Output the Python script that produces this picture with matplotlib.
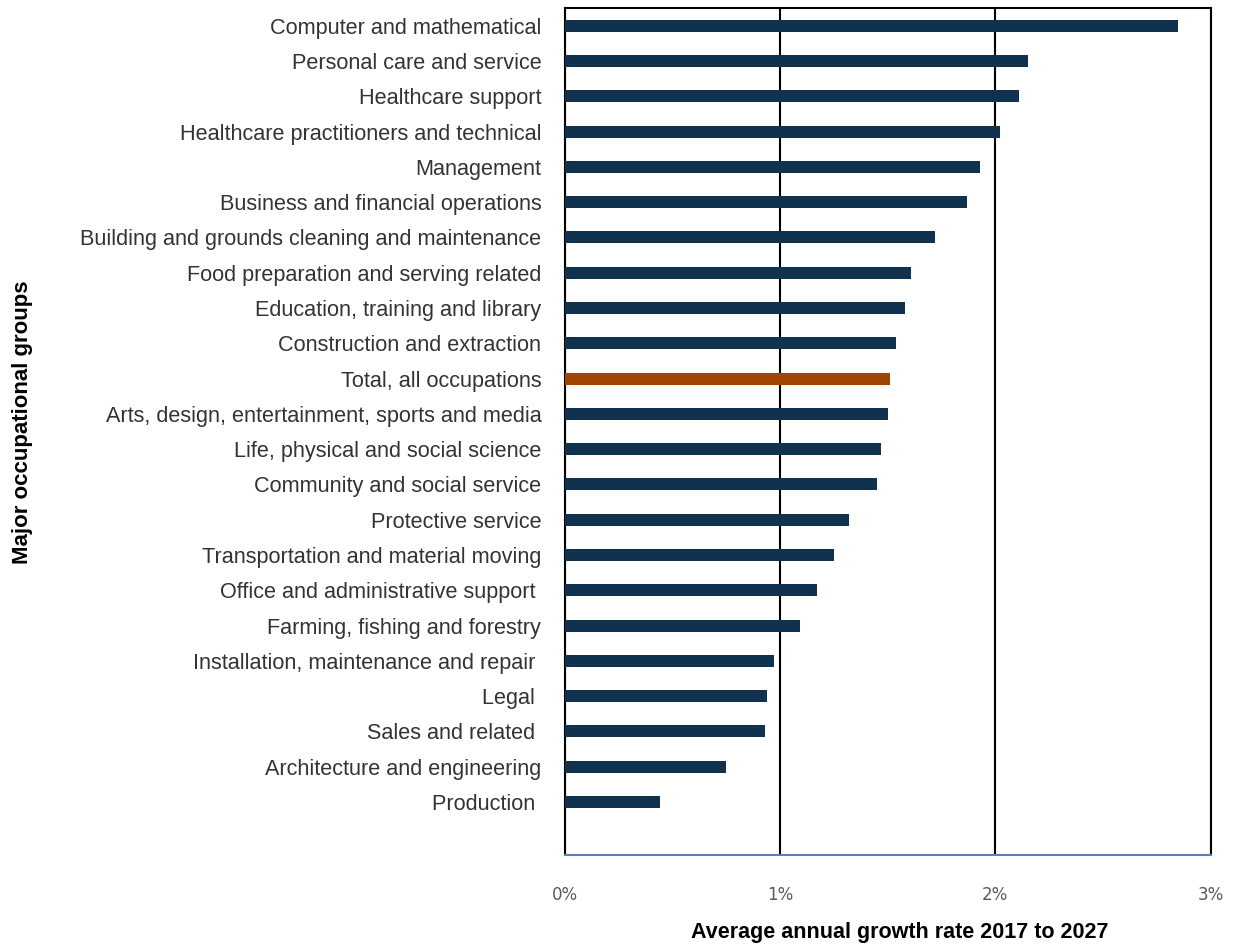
import matplotlib
matplotlib.use("Agg")
import matplotlib.pyplot as plt
from matplotlib.ticker import FuncFormatter

categories = [
    "Computer and mathematical",
    "Personal care and service",
    "Healthcare support",
    "Healthcare practitioners and technical",
    "Management",
    "Business and financial operations",
    "Building and grounds cleaning and maintenance",
    "Food preparation and serving related",
    "Education, training and library",
    "Construction and extraction",
    "Total, all occupations",
    "Arts, design, entertainment, sports and media",
    "Life, physical and social science",
    "Community and social service",
    "Protective service",
    "Transportation and material moving",
    "Office and administrative support ",
    "Farming, fishing and forestry",
    "Installation, maintenance and repair ",
    "Legal ",
    "Sales and related ",
    "Architecture and engineering",
    "Production ",
]
values = [2.85, 2.15, 2.11, 2.02, 1.93, 1.87, 1.72, 1.61, 1.58, 1.54, 1.51,
          1.50, 1.47, 1.45, 1.32, 1.25, 1.17, 1.09, 0.97, 0.94, 0.93, 0.75, 0.44]
highlight = "Total, all occupations"
xticks = [0, 1, 2, 3]

navy = "#10324F"
orange = "#A04400"

fig = plt.figure(figsize=(12.39, 9.46), dpi=100)
ax = fig.add_axes([0.456, 0.0962, 0.521, 0.8953])

ypos = list(range(len(categories)))
colors = [orange if c == highlight else navy for c in categories]
ax.barh(ypos, values, height=0.34, color=colors, zorder=3)

ax.set_ylim(23.5, -0.5)
ax.set_xlim(0, 3)
ax.set_yticks(ypos)
ax.set_yticklabels(categories, fontsize=15.6, color="#333333", family="Liberation Sans")
ax.tick_params(axis="y", length=0, pad=17)
ax.set_xticks(xticks)
ax.xaxis.set_major_formatter(FuncFormatter(lambda v, p: f"{int(v)}%"))
ax.tick_params(axis="x", length=0, pad=22, labelsize=12, labelcolor="#595959")
for lab in ax.get_xticklabels():
    lab.set_family("DejaVu Sans")

ax.grid(axis="x", color="black", linewidth=1.5, zorder=1)
for s in ["top", "left", "right"]:
    ax.spines[s].set_color("black")
    ax.spines[s].set_linewidth(1.5)
ax.spines["bottom"].set_color("#5B7FB5")
ax.spines["bottom"].set_linewidth(1.5)

fig.text(900 / 1239, 1 - 932 / 946, "Average annual growth rate 2017 to 2027", fontsize=15.5,
         fontweight="bold", family="Liberation Sans", ha="center", va="center", color="black")
fig.text(0.018, 1 - 422 / 946, "Major occupational groups", rotation=90, fontsize=16,
         fontweight="bold", family="Liberation Sans", ha="center", va="center")

fig.savefig("out.png", dpi=100)
